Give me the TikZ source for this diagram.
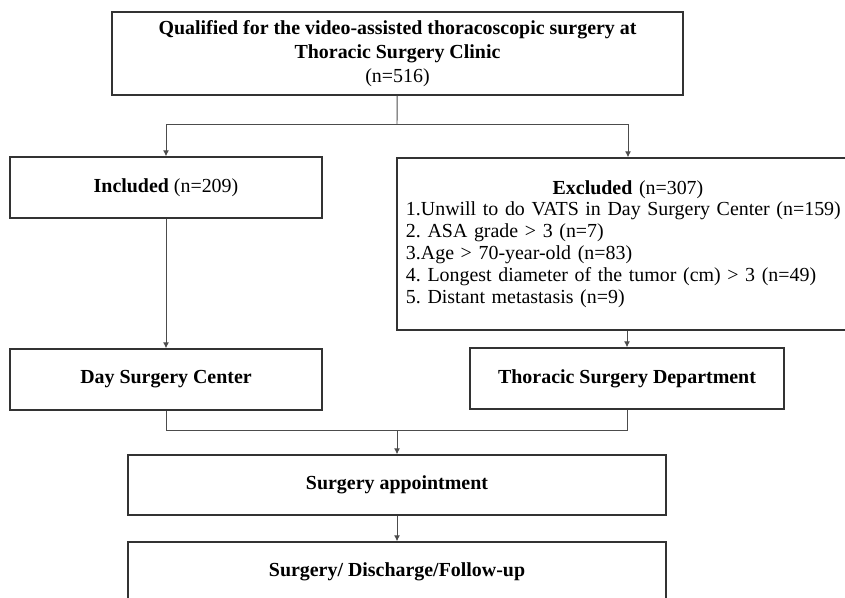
\documentclass[tikz,border=0pt]{standalone}
\usepackage{fontspec}
\setmainfont{Liberation Serif}
\usetikzlibrary{arrows.meta}
\frenchspacing

\begin{document}
\begin{tikzpicture}[x=0.03cm, y=-0.03cm, >={Latex[length=5pt,width=5pt]},
        box/.style={draw=black!80, line width=1.2pt, minimum width=9.36cm,
            minimum height=1.83cm, align=center, font=\fontsize{17}{20.5}\selectfont},
        link/.style={draw=black!70, line width=0.8pt}]
    \useasboundingbox (0,0) rectangle (845,598);

    \node[box, minimum width=17.13cm, minimum height=2.49cm] (qual) at (397.5,53.5)
        {\textbf{Qualified for the video-assisted thoracoscopic surgery at}\\
         \textbf{Thoracic Surgery Clinic}\\(n=516)};
    \coordinate (split) at (397,124);

    \node[box] (incl) at (166,187.5) {\textbf{Included} (n=209)};
    \node[box, minimum width=13.86cm, minimum height=5.16cm, text width=13.32cm,
        inner sep=0.27cm, align=left, font=\fontsize{17}{18.7}\selectfont] (excl) at (628,244)
        {{\centering\textbf{Excluded} (n=307)\par}
         1.Unwill to do VATS in Day Surgery Center (n=159)\\
         2. ASA grade > 3 (n=7)\\
         3.Age > 70-year-old (n=83)\\
         4. Longest diameter of the tumor (cm) > 3 (n=49)\\
         5. Distant metastasis (n=9)};

    \node[box] (dsc) at (166,379.5) {\textbf{Day Surgery Center}};
    \node[box, minimum width=9.42cm] (tsd) at (627,378.5) {\textbf{Thoracic Surgery Department}};
    \coordinate (join) at (397,430);

    \node[box, minimum width=16.14cm, minimum height=1.8cm] (appt) at (397,485) {\textbf{Surgery appointment}};
    \node[box, minimum width=16.14cm, minimum height=1.8cm] (final) at (397,572) {\textbf{Surgery/ Discharge/Follow-up}};

    \draw[link] (qual) -- (split);
    \draw[link, ->] (split) -| (incl);
    \draw[link, ->] (split) -| (excl);
    \draw[link, ->] (incl) -- (dsc);
    \draw[link, ->] (excl.south -| tsd) -- (tsd);
    \draw[link] (dsc) |- (join);
    \draw[link] (tsd) |- (join);
    \draw[link, ->] (join) -- (appt);
    \draw[link, ->] (appt) -- (final);
\end{tikzpicture}
\end{document}
